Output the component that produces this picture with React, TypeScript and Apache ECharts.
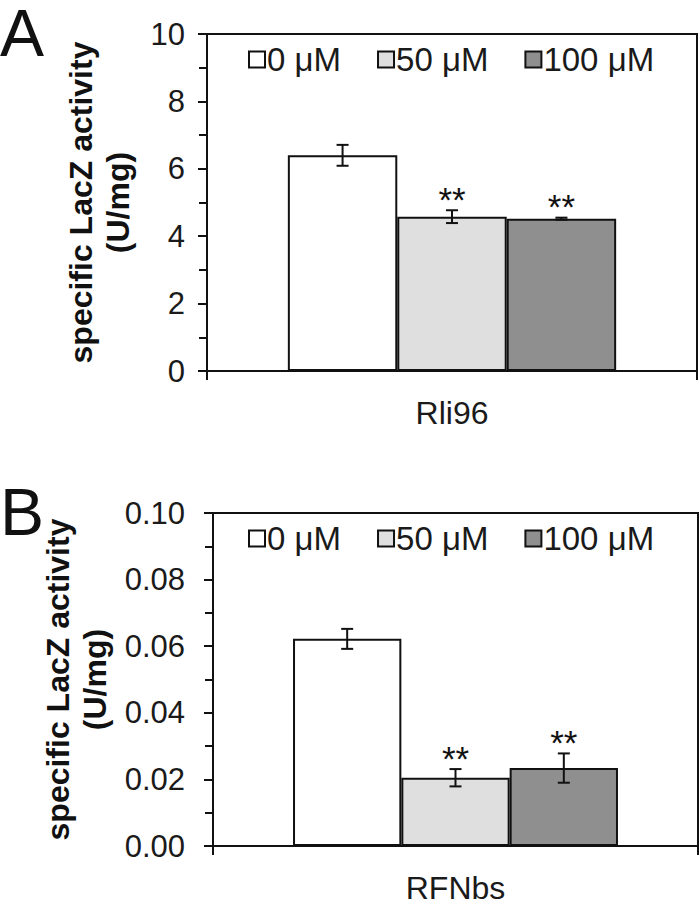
import React, { useEffect, useRef } from "react";
import * as echarts from "echarts";

const concentrations = ["0 μM", "50 μM", "100 μM"];
const barColors = ["#ffffff", "#dfdfdf", "#8f8f8f"];

const categoriesA = ["Rli96"];
const valuesA = [6.4, 4.58, 4.52];
const errorsA = [0.31, 0.19, 0.03];
const starsA = ["", "**", "**"];
const yTicksA = { min: 0, max: 10, interval: 2 };

const categoriesB = ["RFNbs"];
const valuesB = [0.0622, 0.0205, 0.0234];
const errorsB = [0.003, 0.0026, 0.0044];
const starsB = ["", "**", "**"];
const yTicksB = { min: 0, max: 0.1, interval: 0.02 };

const yTitle = "specific LacZ activity\n(U/mg)";
const FONT = "Liberation Sans, Arial, sans-serif";
const GAP = 0.33;

function errorSeries(values: number[], errs: number[], stars: string[], idx: number) {
  return {
    type: "custom",
    xAxisIndex: idx,
    yAxisIndex: idx,
    z: 10,
    silent: true,
    data: values.map((v) => [0, v]),
    renderItem: (params: any, api: any) => {
      const i = params.dataIndex;
      const v = values[i];
      const e = errs[i];
      const cx0 = api.coord([0, 0])[0];
      const band = api.size([1, 0])[0];
      const bw = (band * (1 - GAP)) / values.length;
      const cx = cx0 + (i - (values.length - 1) / 2) * bw;
      const yT = api.coord([0, v + e])[1];
      const yB = api.coord([0, v - e])[1];
      const cap = 6;
      const ls = { stroke: "#111", lineWidth: 2 };
      const children: any[] = [
        { type: "line", shape: { x1: cx, y1: yT, x2: cx, y2: yB }, style: ls },
        { type: "line", shape: { x1: cx - cap, y1: yT, x2: cx + cap, y2: yT }, style: ls },
        { type: "line", shape: { x1: cx - cap, y1: yB, x2: cx + cap, y2: yB }, style: ls },
      ];
      if (stars[i]) {
        children.push({
          type: "text",
          x: cx,
          y: yT - 11,
          style: {
            text: stars[i],
            fontSize: 35,
            fontFamily: FONT,
            fill: "#111",
            align: "center",
            verticalAlign: "middle",
          },
        });
      }
      return { type: "group", children };
    },
  };
}

function barSeries(values: number[], idx: number) {
  return values.map((v, i) => ({
    type: "bar",
    name: concentrations[i],
    xAxisIndex: idx,
    yAxisIndex: idx,
    data: [v],
    barGap: "0%",
    barCategoryGap: GAP * 100 + "%",
    itemStyle: { color: barColors[i], borderColor: "#111", borderWidth: 2 },
  }));
}

function yAxis(idx: number, t: any, gap: number, labelMargin: number, fmt: (v: number) => string) {
  return {
    type: "value",
    gridIndex: idx,
    min: t.min,
    max: t.max,
    interval: t.interval,
    name: yTitle,
    nameLocation: "middle",
    nameRotate: 90,
    nameGap: gap,
    nameTextStyle: {
      fontSize: 32,
      fontWeight: "bold",
      fontFamily: FONT,
      color: "#111",
      lineHeight: 37,
    },
    axisLine: { show: true, lineStyle: { color: "#111", width: 2 } },
    axisTick: { show: true, inside: false, length: 9, lineStyle: { color: "#111", width: 2 } },
    minorTick: { show: true, splitNumber: 2, length: 8, lineStyle: { color: "#111", width: 2 } },
    splitLine: { show: false },
    axisLabel: {
      fontSize: 31,
      fontFamily: FONT,
      color: "#1a1a1a",
      margin: labelMargin,
      formatter: fmt,
    },
  };
}

function xAxis(idx: number, cats: string[], margin: number) {
  return {
    type: "category",
    gridIndex: idx,
    data: cats,
    axisLine: { show: true, lineStyle: { color: "#111", width: 2 } },
    axisTick: { show: true, alignWithLabel: false, length: 9, lineStyle: { color: "#111", width: 2 } },
    axisLabel: { fontSize: 32, lineHeight: 24, fontFamily: FONT, color: "#1a1a1a", margin },
  };
}

function legend(left: number, top: number) {
  return {
    data: concentrations,
    left,
    top,
    icon: "rect",
    itemWidth: 16,
    itemHeight: 16,
    itemGap: 36,
    selectedMode: false,
    textStyle: { fontSize: 33, fontFamily: FONT, color: "#1a1a1a", padding: [0, 0, 0, -3] },
  };
}

export default function App() {
  const ref = useRef<HTMLDivElement>(null);
  useEffect(() => {
    document.body.style.margin = "0";
    const chart = echarts.init(ref.current!, null, { renderer: "svg" });
    chart.setOption({
      animation: false,
      backgroundColor: "#ffffff",
      grid: [
        { left: 207, top: 34, width: 490, height: 337, show: true, borderColor: "#111", borderWidth: 2, backgroundColor: "transparent" },
        { left: 213, top: 513, width: 485, height: 336, show: true, borderColor: "#111", borderWidth: 2, backgroundColor: "transparent" },
      ],
      xAxis: [xAxis(0, categoriesA, 30), xAxis(1, categoriesB, 30)],
      yAxis: [
        yAxis(0, yTicksA, 71, 22, (v: number) => String(v)),
        yAxis(1, yTicksB, 95, 28, (v: number) => v.toFixed(2)),
      ],
      legend: [legend(243, 38), legend(243, 517)],
      graphic: [
        { type: "text", left: 0, top: 0, style: { text: "A", fontSize: 66, lineHeight: 34, fontFamily: FONT, fill: "#111" } },
        { type: "text", left: 0, top: 479, style: { text: "B", fontSize: 66, lineHeight: 34, fontFamily: FONT, fill: "#111" } },
      ],
      series: [
        ...barSeries(valuesA, 0),
        ...barSeries(valuesB, 1),
        errorSeries(valuesA, errorsA, starsA, 0),
        errorSeries(valuesB, errorsB, starsB, 1),
      ],
    });
    return () => chart.dispose();
  }, []);
  return <div ref={ref} style={{ width: 700, height: 904 }} />;
}
